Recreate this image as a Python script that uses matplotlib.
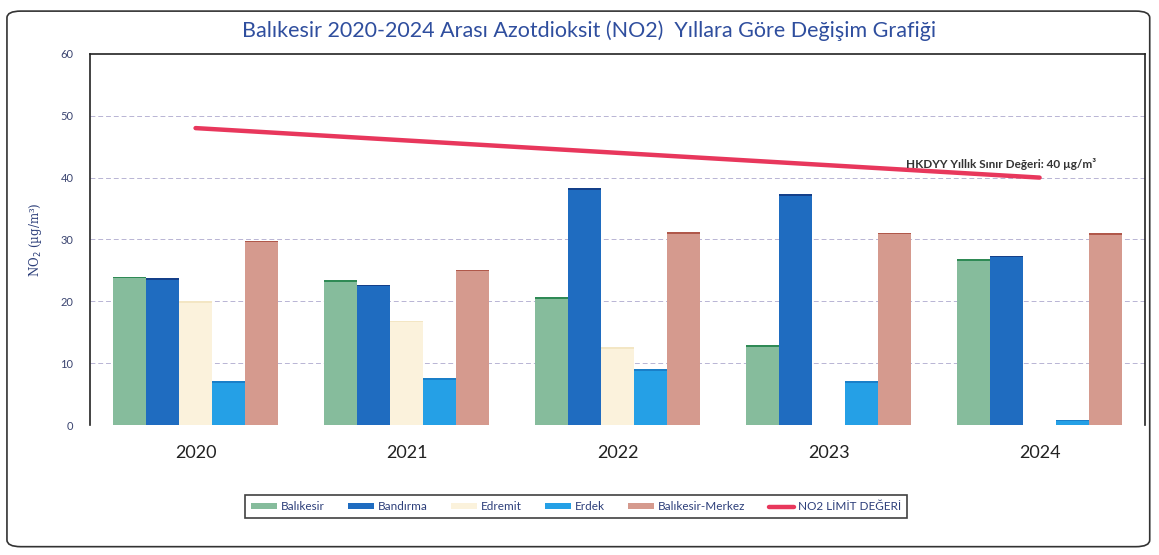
import numpy as np
import matplotlib.pyplot as plt
from matplotlib.patches import FancyBboxPatch

plt.rcParams['font.family'] = ['Lato', 'DejaVu Sans']

years = ['2020', '2021', '2022', '2023', '2024']
stations = ['Balıkesir', 'Bandırma', 'Edremit', 'Erdek', 'Balıkesir-Merkez']

balikesir = [24.0, 23.4, 20.7, 12.9, 26.8]
bandirma = [23.7, 22.7, 38.3, 37.3, 27.4]
edremit = [20.0, 16.9, 12.6, np.nan, np.nan]
erdek = [7.1, 7.6, 9.0, 7.1, 0.9]
merkez = [29.8, 25.1, 31.2, 31.1, 31.0]
limit = [48, 46, 44, 42, 40]

colors = ['#86bc9c', '#1f6cc0', '#fbf2dc', '#25a0e6', '#d59a8e']
edges = ['#2f8a55', '#14408a', '#f3e6c4', '#1a7fc8', '#b0584a']

fig = plt.figure(figsize=(11.59, 5.55), dpi=100)
ax = fig.add_axes([0.0777, 0.234, 0.9103, 0.669])

series = [balikesir, bandirma, edremit, erdek, merkez]
x = np.arange(len(years))
w = 0.156
handles = []
for i, vals in enumerate(series):
    b = ax.bar(x + (i - 2) * w, vals, w, color=colors[i], label=stations[i],
               edgecolor='none', zorder=3)
    handles.append(b)
    # darker top edge like the original
    ax.bar(x + (i - 2) * w, np.full(5, 0.25), w, bottom=np.array(vals) - 0.25,
           color=edges[i], edgecolor='none', zorder=3)

ln, = ax.plot(x, limit, color='#e8375c', lw=3.2, solid_capstyle='round',
              label='NO2 LİMİT DEĞERİ', zorder=4)
handles.append(ln)
ax.text(4.27, 41.3, 'HKDYY Yıllık Sınır Değeri: 40 µg/m³', ha='right',
        va='bottom', fontsize=8.5, fontweight='bold', color='#333333', zorder=5)

ax.set_xlim(-0.5, 4.5)
ax.set_ylim(0, 60)
ax.set_yticks(range(0, 61, 10))
ax.set_xticks(x)
ax.set_xticklabels(years, fontsize=13, color='#222222')
ax.tick_params(axis='x', length=0, pad=14)
ax.tick_params(axis='y', length=0, pad=12, labelsize=8, labelcolor='#3a4470')
for v in range(10, 60, 10):
    ax.axhline(v, color='#b8b4d4', lw=0.7, ls=(0, (5, 3)), zorder=1)
ax.spines['bottom'].set_visible(False)
for s in ['left', 'top', 'right']:
    ax.spines[s].set_color('#222222')
    ax.spines[s].set_linewidth(1.2)

ax.set_ylabel('NO$_2$ (µg/m³)', fontsize=8.5, color='#2d3f7a', labelpad=12,
              family=['DejaVu Serif'])

fig.text(0.508, 0.944, 'Balıkesir 2020-2024 Arası Azotdioksit (NO2)  Yıllara Göre Değişim Grafiği',
         ha='center', va='center', fontsize=15.5, color='#2f4e9e')

labels = stations + ['NO2 LİMİT DEĞERİ']
leg = fig.legend(handles, labels, loc='center', bbox_to_anchor=(0.497, 0.087), ncol=6,
                 fontsize=8.5, frameon=True, fancybox=False, handlelength=2.2,
                 handleheight=0.4, columnspacing=2.0, handletextpad=0.3,
                 borderpad=0.5)
leg.get_frame().set_edgecolor('#111111')
leg.get_frame().set_linewidth(1.2)
for t in leg.get_texts():
    t.set_color('#2d3f7a')

border = FancyBboxPatch((0.006, 0.015), 0.986, 0.965, boxstyle='round,pad=0,rounding_size=0.012',
                        transform=fig.transFigure, fill=False, edgecolor='#333333', lw=1.2)
fig.patches.append(border)

fig.savefig('out.png', dpi=100)
